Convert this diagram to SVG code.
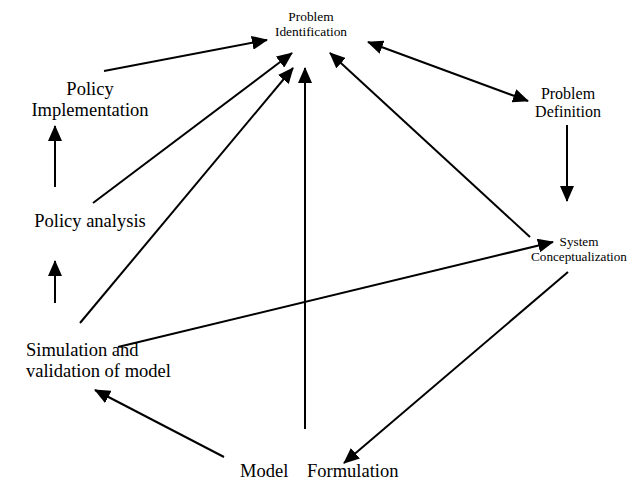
<svg xmlns="http://www.w3.org/2000/svg" width="640" height="480" viewBox="0 0 640 480">
<style>
text{font-family:"Liberation Serif","Times New Roman",serif;fill:#000;text-anchor:middle}
text.st{text-anchor:start}
.s{font-size:13.4px}.m{font-size:16px}.n{font-size:13.2px}.l{font-size:18.5px}
.c line{stroke:#000;stroke-width:2}
</style>
<defs>
<marker id="ah" markerUnits="userSpaceOnUse" markerWidth="16" markerHeight="14" refX="15" refY="7" orient="auto-start-reverse"><path d="M0,0 L16,7 L0,14 z" fill="#000"/></marker>
</defs>
<rect width="640" height="480" fill="#fff"/>
<g id="problem-identification"><text class="s" x="311" y="21">Problem</text><text class="s" x="311" y="36">Identification</text></g>
<g id="problem-definition"><text class="m" x="568" y="99">Problem</text><text class="m" x="568" y="117">Definition</text></g>
<g id="system-conceptualization"><text class="n" x="579" y="246">System</text><text class="n" x="579" y="261">Conceptualization</text></g>
<g id="policy-implementation"><text class="l" x="90" y="95">Policy</text><text class="l" x="90" y="116">Implementation</text></g>
<g id="policy-analysis"><text class="l" x="90" y="227">Policy analysis</text></g>
<g id="simulation"><text class="l st" x="26" y="356">Simulation and</text><text class="l st" x="26" y="377">validation of model</text></g>
<g id="model-formulation"><text class="l st" y="477"><tspan x="240">Model</tspan><tspan x="307">Formulation</tspan></text></g>
<g id="connectors" class="c">
<line x1="104" y1="71" x2="267" y2="40" marker-end="url(#ah)"/>
<line x1="55" y1="187" x2="55" y2="126" marker-end="url(#ah)"/>
<line x1="93" y1="203" x2="292" y2="53" marker-end="url(#ah)"/>
<line x1="80" y1="323" x2="293" y2="68" marker-end="url(#ah)"/>
<line x1="305" y1="429" x2="305" y2="68" marker-end="url(#ah)"/>
<line x1="530" y1="237" x2="330" y2="53" marker-end="url(#ah)"/>
<line x1="368" y1="42" x2="528" y2="101" marker-start="url(#ah)" marker-end="url(#ah)"/>
<line x1="567" y1="125" x2="567" y2="201" marker-end="url(#ah)"/>
<line x1="55" y1="303" x2="55" y2="261" marker-end="url(#ah)"/>
<line x1="118" y1="347" x2="553" y2="242" marker-end="url(#ah)"/>
<line x1="224" y1="457" x2="95" y2="390" marker-end="url(#ah)"/>
<line x1="568" y1="272" x2="344" y2="463" marker-end="url(#ah)"/>
</g>
</svg>
